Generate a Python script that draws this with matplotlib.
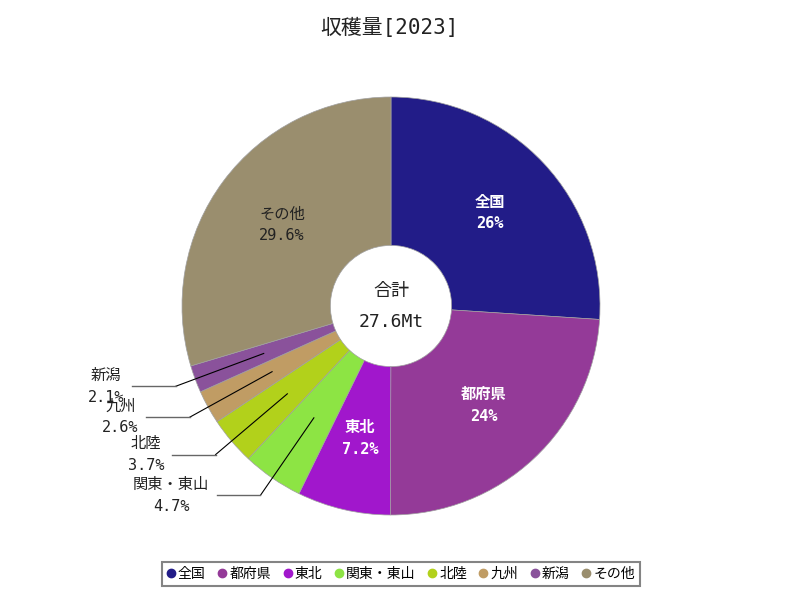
import numpy as np
import matplotlib
matplotlib.use("Agg")
import matplotlib.pyplot as plt
from matplotlib.lines import Line2D

plt.rcParams['font.family'] = ['DejaVu Sans Mono', 'Noto Sans CJK JP']

categories = ['全国', '都府県', '東北', '関東・東山', '北陸', '九州', '新潟', 'その他']
values = [26, 24, 7.2, 4.7, 3.7, 2.6, 2.1, 29.6]
pct_labels = ['26%', '24%', '7.2%', '4.7%', '3.7%', '2.6%', '2.1%', '29.6%']
colors = ['#221c88', '#943a98', '#a117cc', '#8de444', '#b2d11b', '#c09c64', '#8a529b', '#9a8e6e']
total_label = '27.6Mt'
title = '収穫量[2023]'

inside = {'全国': 'white', '都府県': 'white', '東北': 'white', 'その他': '#222222'}

fig = plt.figure(figsize=(8, 6), dpi=100)
fig.patch.set_facecolor('white')
cx, cy, R = 391, 306, 209
ax = fig.add_axes([(cx - R) / 800, (600 - cy - R) / 600, 2 * R / 800, 2 * R / 600])
ax.set_xlim(-1, 1)
ax.set_ylim(-1, 1)
ax.set_aspect('equal')
ax.axis('off')

wedges, _ = ax.pie(values, colors=colors, startangle=90, counterclock=False,
                   radius=1.0, center=(0, 0), frame=False,
                   wedgeprops=dict(width=0.71, edgecolor='#a0a0a0', linewidth=0.5))
ax.set_xlim(-1, 1)
ax.set_ylim(-1, 1)

for w, cat, pl in zip(wedges, categories, pct_labels):
    ang = np.deg2rad((w.theta1 + w.theta2) / 2)
    ca, sa = np.cos(ang), np.sin(ang)
    if cat in inside:
        col = inside[cat]
        bold = 'bold' if col == 'white' else 'normal'
        ax.text(0.65 * ca, 0.65 * sa, f'{cat}\n{pl}', ha='center', va='center',
                color=col, fontsize=11, fontweight=bold, linespacing=1.55)
    else:
        x0, y0 = 0.65 * ca, 0.65 * sa
        x1, y1 = 1.10 * ca, 1.10 * sa
        x2 = x1 - 0.21
        ax.plot([x0, x1], [y0, y1], color='black', lw=0.8, clip_on=False)
        ax.plot([x1, x2], [y1, y1], color='#666666', lw=1.0, clip_on=False)
        ax.text(x2 - 0.035, y1, f'{cat}\n{pl}', ha='right', va='center',
                multialignment='center', color='#222222', fontsize=11,
                linespacing=1.55, clip_on=False)

ax.text(0, 0.07, '合計', ha='center', va='center', fontsize=13, color='#222222')
ax.text(0, -0.075, total_label, ha='center', va='center', fontsize=13, color='#222222')

fig.text(0.487, 0.953, title, ha='center', va='center', fontsize=15, color='#222222')

handles = [Line2D([0], [0], marker='o', linestyle='none', markersize=6,
                  markerfacecolor=c, markeredgecolor=c) for c in colors]
leg = fig.legend(handles, categories, loc='center', bbox_to_anchor=(0.501, 0.043),
                 ncol=len(categories), frameon=True,
                 prop={'family': ['Noto Sans CJK JP', 'DejaVu Sans'], 'size': 10},
                 handlelength=0.6, handletextpad=0.2, columnspacing=0.9,
                 borderpad=0.35, fancybox=False)
leg.get_frame().set_edgecolor('#666666')
leg.get_frame().set_linewidth(1.5)

fig.savefig('out.png', dpi=100, facecolor='white')
